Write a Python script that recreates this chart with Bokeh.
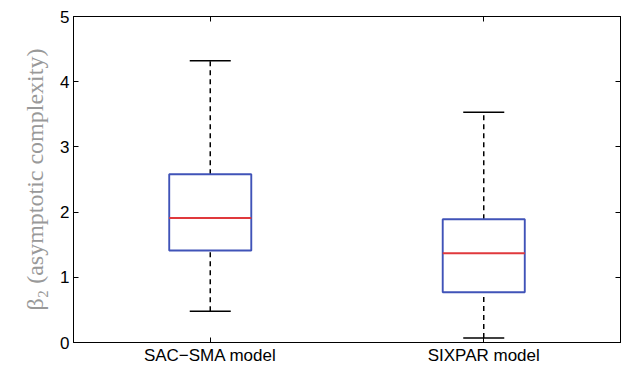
from bokeh.plotting import figure
from bokeh.models import FixedTicker, LinearAxis, Range1d, CustomLabelingPolicy
from bokeh.embed import file_html
from bokeh.resources import INLINE

categories = ["SAC\u2212SMA model", "SIXPAR model"]
positions = [1, 2]
whisker_low = [0.48, 0.07]
q1 = [1.41, 0.77]
median = [1.91, 1.37]
q3 = [2.58, 1.89]
whisker_high = [4.32, 3.53]
y_ticks = [0, 1, 2, 3, 4, 5]

box_w = 0.30
cap_w = 0.15

p = figure(width=621, height=367, output_backend="svg", toolbar_location=None,
           x_range=Range1d(0.5, 2.5), y_range=Range1d(0, 5),
           min_border_left=73, min_border_right=1, min_border_top=16, min_border_bottom=23)

p.grid.visible = False
p.outline_line_color = "black"
p.outline_line_width = 1
p.background_fill_color = "white"
p.border_fill_color = "white"

dash = "5 4"
p.segment(x0=positions, y0=q3, x1=positions, y1=whisker_high, line_color="black",
          line_width=1.5, line_dash=dash)
p.segment(x0=positions, y0=whisker_low, x1=positions, y1=q1, line_color="black",
          line_width=1.5, line_dash=dash)
p.segment(x0=[x - cap_w / 2 for x in positions], y0=whisker_high,
          x1=[x + cap_w / 2 for x in positions], y1=whisker_high, line_color="black", line_width=1.5)
p.segment(x0=[x - cap_w / 2 for x in positions], y0=whisker_low,
          x1=[x + cap_w / 2 for x in positions], y1=whisker_low, line_color="black", line_width=1.5)
p.quad(left=[x - box_w / 2 for x in positions], right=[x + box_w / 2 for x in positions],
       bottom=q1, top=q3, fill_color=None, line_color="#4053b8", line_width=1.9)
p.segment(x0=[x - box_w / 2 for x in positions], y0=median,
          x1=[x + box_w / 2 for x in positions], y1=median, line_color="#e0393c", line_width=2)

font = "Liberation Sans"

p.xaxis.ticker = FixedTicker(ticks=positions)
p.xaxis.major_label_overrides = {pos: lab for pos, lab in zip(positions, categories)}
p.yaxis.ticker = FixedTicker(ticks=y_ticks)
p.yaxis.major_label_overrides = {t: str(t) for t in y_ticks}

for ax in [p.xaxis[0], p.yaxis[0]]:
    ax.major_tick_in = 5
    ax.major_tick_out = 0
    ax.minor_tick_in = 0
    ax.minor_tick_out = 0
    ax.axis_line_color = "black"
    ax.major_tick_line_color = "black"
    ax.major_label_text_font = font
    ax.major_label_text_font_size = "17px"
    ax.major_label_text_color = "black"

p.xaxis.major_label_standoff = 3
p.yaxis.major_label_standoff = 4

p.yaxis.axis_label = "\u03b2\u2082 (asymptotic complexity)"
p.yaxis.axis_label_text_font = "Liberation Serif"
p.yaxis.axis_label_text_font_style = "normal"
p.yaxis.axis_label_text_font_size = "24px"
p.yaxis.axis_label_text_color = "#999999"
p.yaxis.axis_label_standoff = 9

no_labels = CustomLabelingPolicy(code="""
    for (const i of indices) { indices.unset(i) }
    return indices
""")

top = LinearAxis(ticker=FixedTicker(ticks=positions), major_label_policy=no_labels,
                 major_label_overrides={pos: "" for pos in positions},
                 major_tick_in=5, major_tick_out=0, minor_tick_in=0, minor_tick_out=0,
                 major_label_standoff=0)
right = LinearAxis(ticker=FixedTicker(ticks=y_ticks), major_label_policy=no_labels,
                   major_label_overrides={t: "" for t in y_ticks},
                   major_tick_in=5, major_tick_out=0, minor_tick_in=0, minor_tick_out=0,
                   major_label_standoff=0)
p.add_layout(top, "above")
p.add_layout(right, "right")

open("out.html", "w").write(file_html(p, INLINE))
